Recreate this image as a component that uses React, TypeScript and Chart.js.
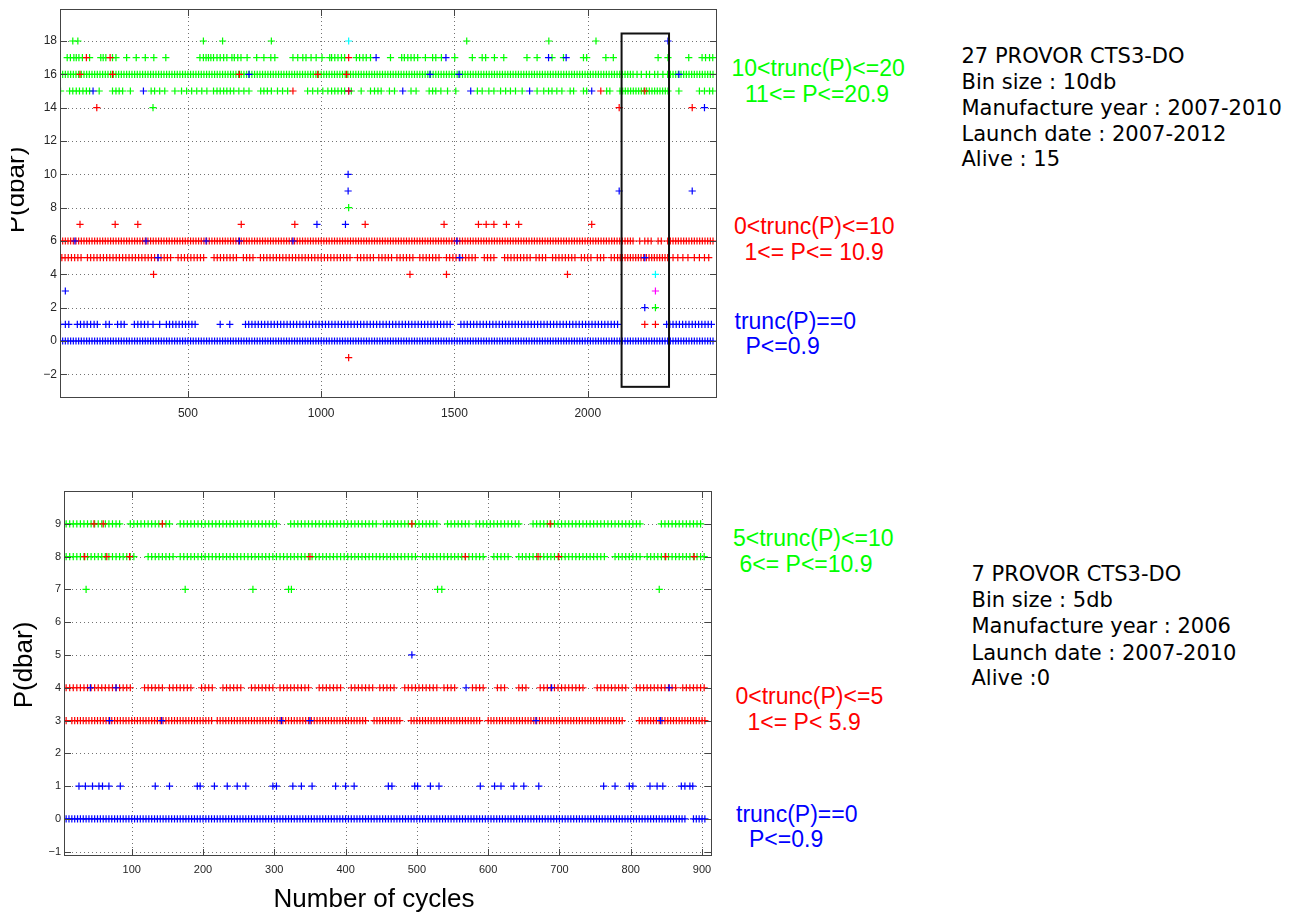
import React, { useEffect, useRef } from 'react';
import { Chart, registerables } from 'chart.js';
Chart.register(...registerables);

// ---------------- axis ranges & ticks ----------------
const TOP_X_RANGE = [20, 2485];
const TOP_Y_RANGE = [-3.42, 19.92];
const TOP_X_TICKS = [500, 1000, 1500, 2000];
const TOP_Y_TICKS = [-2, 0, 2, 4, 6, 8, 10, 12, 14, 16, 18];
const BOT_X_RANGE = [5, 914];
const BOT_Y_RANGE = [-1.13, 10];
const BOT_X_TICKS = [100, 200, 300, 400, 500, 600, 700, 800, 900];
const BOT_Y_TICKS = [-1, 0, 1, 2, 3, 4, 5, 6, 7, 8, 9];

// box drawn in the top panel (cycles, dbar)
const TOP_BOX_X = [2127, 2305];
const TOP_BOX_Y = [-2.75, 18.45];

// ---------------- top panel: rows of cycles ----------------
const TOP_BLUE_0 = [20,30,40,50,60,70,80,90,100,110,120,130,140,150,160,170,180,190,200,210,220,230,240,250,260,
270,280,290,300,310,320,330,340,350,360,370,380,390,400,410,420,430,440,450,460,470,480,490,500,510,
520,530,540,550,560,570,580,590,600,610,620,630,640,650,660,670,680,690,700,710,720,730,740,750,760,
770,780,790,800,810,820,830,840,850,860,870,880,890,900,910,920,930,940,950,960,970,980,990,1000,1010,
1020,1030,1040,1050,1060,1070,1080,1090,1100,1110,1120,1130,1140,1150,1160,1170,1180,1190,1200,1210,1220,1230,1240,1250,1260,
1270,1280,1290,1300,1310,1320,1330,1340,1350,1360,1370,1380,1390,1400,1410,1420,1430,1440,1450,1460,1470,1480,1490,1500,1510,
1520,1530,1540,1550,1560,1570,1580,1590,1600,1610,1620,1630,1640,1650,1660,1670,1680,1690,1700,1710,1720,1730,1740,1750,1760,
1770,1780,1790,1800,1810,1820,1830,1840,1850,1860,1870,1880,1890,1900,1910,1920,1930,1940,1950,1960,1970,1980,1990,2000,2010,
2020,2030,2040,2050,2060,2070,2080,2090,2100,2110,2120,2130,2140,2150,2160,2170,2180,2190,2200,2210,2220,2230,2240,2250,2260,
2270,2280,2290,2300,2310,2320,2330,2340,2350,2360,2370,2380,2390,2400,2410,2420,2430,2440,2450,2460,2470];

const TOP_BLUE_1 = [22,40,53,85,97,110,122,135,148,160,192,205,236,249,261,299,312,324,337,350,369,394,
419,431,443,455,467,479,491,503,515,527,621,657,
716,728,740,752,764,776,788,800,812,824,836,848,860,872,884,896,908,920,932,944,956,968,980,992,1004,1016,1028,1040,
1052,1064,1076,1088,1100,1112,1124,1136,1148,1160,1172,1184,1196,1208,1220,1232,1244,1256,1268,1280,1292,1304,1316,
1328,1340,1352,1364,1376,1388,1400,1412,1424,1436,1448,1460,1472,1484,
1524,1536,1548,1560,1572,1584,1596,1608,1620,1632,1644,1656,1668,1680,1692,1704,1716,1728,1740,1752,1764,1776,1788,
1800,1812,1824,1836,1848,1860,1872,1884,1896,1908,1920,1932,1944,1956,1968,1980,1992,2004,2016,2028,2040,2052,2064,
2076,2088,2100,2112,
2296,2308,2320,2332,2344,2356,2368,2380,2392,2404,2416,2428,2440,2452,2464];

const TOP_RED_5 = [22,27,39,51,63,75,87,99,123,135,147,159,171,183,195,207,219,231,243,255,267,279,291,303,315,327,339,351,
363,375,387,399,411,423,435,463,475,487,499,511,523,535,547,559,598,610,622,634,646,658,670,682,708,720,732,744,
772,784,796,808,820,832,844,856,868,880,892,904,916,928,940,952,964,976,988,1000,1012,1024,1036,1048,1060,1072,1084,
1096,1108,1136,1148,1160,1172,1184,1196,1216,1228,1240,1252,1264,1284,1296,1308,1320,1332,1344,1370,1382,1394,1406,
1418,1430,1442,1470,1482,1494,1506,1518,1530,1542,1554,1566,1578,1612,1624,1636,1648,1688,1700,1712,1724,1736,1748,
1760,1772,1784,1806,1818,1830,1842,1868,1880,1892,1904,1916,1928,1940,1952,1976,1988,2000,2012,2036,2048,2060,2088,
2100,2112,2122,2130,2140,2150,2160,2170,2180,2190,2200,2210,2220,2230,2240,2250,2260,2270,2280,2290,2300,
2320,2338,2357,2376,2400,2419,2438,2454];

const TOP_RED_6 = [20,30,40,50,60,70,80,90,100,110,120,130,140,150,160,170,180,190,200,210,220,230,240,250,260,
270,280,290,300,310,320,330,340,350,360,370,380,390,400,410,420,430,440,450,460,470,480,490,500,510,
520,530,540,550,560,570,580,590,600,610,620,630,640,650,660,670,680,690,700,710,720,730,740,750,760,
770,780,790,800,810,820,830,840,850,860,870,880,890,900,910,920,930,940,950,960,970,980,990,1000,1010,
1020,1030,1040,1050,1060,1070,1080,1090,1100,1110,1120,1130,1140,1150,1160,1170,1180,1190,1200,1210,1220,1230,1240,1250,1260,
1270,1280,1290,1300,1310,1320,1330,1340,1350,1360,1370,1380,1390,1400,1410,1420,1430,1440,1450,1460,1470,1480,1490,1500,1510,
1520,1530,1540,1550,1560,1570,1580,1590,1600,1610,1620,1630,1640,1650,1660,1670,1680,1690,1700,1710,1720,1730,1740,1750,1760,
1770,1780,1790,1800,1810,1820,1830,1840,1850,1860,1870,1880,1890,1900,1910,1920,1930,1940,1950,1960,1970,1980,1990,2000,2010,
2020,2030,2040,2050,2060,2070,2080,2090,2100,2110,2120,2130,2140,2150,2160,2170,2195,2214,2226,2238,2264,2276,
2300,2310,2320,2330,2340,2350,2360,2370,2380,2390,2400,2410,2420,2430,2440,2450,2460,2470];

const TOP_GREEN_15 = [22,56,68,81,93,106,119,131,167,217,230,242,255,284,362,375,394,413,451,476,495,514,533,552,571,596,
609,621,634,646,659,672,691,710,729,773,785,798,813,836,855,874,949,968,987,1006,1025,1039,1051,1063,1076,1088,1113,
1150,1185,1200,1213,1225,1256,1275,1337,1356,1405,1418,1430,1449,1474,1505,1586,1604,1629,1648,1673,1692,1710,1729,
1754,1810,1835,1853,1866,1884,1903,1934,1947,1984,1996,2071,2083,2121,2131,2141,2151,2161,2171,2181,2191,2201,2211,
2221,2231,2241,2251,2261,2271,2281,2291,2301,2342,2419,2438,2457,2469];

const TOP_GREEN_16 = [20,30,40,50,60,70,80,90,100,110,120,130,140,150,160,170,180,190,200,210,220,230,240,250,260,
270,280,290,300,310,320,330,340,350,360,370,380,390,400,410,420,430,440,450,460,470,480,490,500,510,
520,530,540,550,560,570,580,590,600,610,620,630,640,650,660,670,680,690,700,710,720,730,740,750,760,
770,780,790,800,810,820,830,840,850,860,870,880,890,900,910,920,930,940,950,960,970,980,990,1000,1010,
1020,1030,1040,1050,1060,1070,1080,1090,1100,1110,1120,1130,1140,1150,1160,1170,1180,1190,1200,1210,1220,1230,1240,1250,1260,
1270,1280,1290,1300,1310,1320,1330,1340,1350,1360,1370,1380,1390,1400,1410,1420,1430,1440,1450,1460,1470,1480,1490,1500,1510,
1520,1530,1540,1550,1560,1570,1580,1590,1600,1610,1620,1630,1640,1650,1660,1670,1680,1690,1700,1710,1720,1730,1740,1750,1760,
1770,1780,1790,1800,1810,1820,1830,1840,1850,1860,1870,1880,1890,1900,1910,1920,1930,1940,1950,1960,1970,1980,1990,2000,2010,
2020,2030,2040,2050,2060,2070,2080,2090,2100,2110,2120,2130,2140,2150,2160,2170,2185,2201,2220,2232,2251,2263,2282,
2300,2310,2320,2330,2340,2350,2360,2370,2380,2390,2400,2410,2420,2430,2440,2450,2460,2470];

const TOP_GREEN_17 = [47,59,72,81,91,104,131,173,182,192,217,230,270,306,340,372,417,545,558,568,577,586,596,609,621,634,
646,665,674,687,699,722,758,785,811,826,894,912,931,943,962,981,1003,1032,1039,1051,1063,1076,1088,1132,1144,1157,
1169,1185,1260,1302,1312,1325,1337,1349,1362,1391,1418,1430,1451,1501,1567,1604,1617,1650,1685,1772,1810,1866,1909,
1984,1996,2068,2096,2264,2301,2379,2429,2442,2457,2469];

const TOP_GREEN_18 = [68, 87, 558, 630, 813, 1546, 1854, 2031];

// isolated points [cycle, dbar]
const TOP_BLUE_POINTS = [[76,6],[343,6],[568,6],[693,6],[894,6],[1509,6],[388,5],[1520,5],[2214,5],[729,16],[1408,16],
[1517,16],[2342,16],[144,15],[333,15],[1103,15],[1306,15],[1561,15],[1782,15],[2015,15],[1206,17],[1468,17],[1853,17],
[1919,17],[2301,18],[2438,14],[1101,10],[1101,9],[2118,9],[2392,9],[984,7],[1091,7],[40,3],[2214,2]];
const TOP_RED_POINTS = [[95,16],[217,16],[693,16],[987,16],[1095,16],[894,15],[1103,15],[2049,15],[2214,15],[119,17],
[208,17],[1103,17],[158,14],[2118,14],[2392,14],[95,7],[227,7],[312,7],[700,7],[901,7],[1165,7],[1461,7],[1590,7],
[1619,7],[1648,7],[1695,7],[1741,7],[2015,7],[371,4],[1333,4],[1470,4],[1924,4],[2214,1],[2254,1],[1103,-1]];
const TOP_GREEN_POINTS = [[369,14],[1103,8],[2254,2]];
const TOP_CYAN_POINTS = [[1103,18],[2254,4]];
const TOP_MAGENTA_POINTS = [[2254,3]];

// ---------------- bottom panel: rows of cycles ----------------
const BOT_BLUE_0 = [8,12,16,20,24,28,32,36,40,44,48,52,56,60,64,68,72,76,80,84,88,92,96,100,104,108,112,116,120,124,128,
132,136,140,144,148,152,156,160,164,168,172,176,180,184,188,192,196,200,204,208,212,216,220,224,228,232,236,240,244,248,
252,256,260,264,268,272,276,280,284,288,292,296,300,304,308,312,316,320,324,328,332,336,340,344,348,352,356,360,364,368,
372,376,380,384,388,392,396,400,404,408,412,416,420,424,428,432,436,440,444,448,452,456,460,464,468,472,476,480,484,488,
492,496,500,504,508,512,516,520,524,528,532,536,540,544,548,552,556,560,564,568,572,576,580,584,588,592,596,600,604,608,
612,616,620,624,628,632,636,640,644,648,652,656,660,664,668,672,676,680,684,688,692,696,700,704,708,712,716,720,724,728,
732,736,740,744,748,752,756,760,764,768,772,776,780,784,788,792,796,800,804,808,812,816,820,824,828,832,836,840,844,848,
852,856,860,864,868,872,876,888,892,896,900,904];

const BOT_BLUE_1 = [26,35,45,54,59,68,84,133,153,192,196,216,234,248,260,298,303,326,338,353,386,400,412,460,465,497,501,
519,531,589,609,618,636,650,671,762,778,798,803,827,837,845,871,876,883,887];

const BOT_RED_3 = [8,16,20,24,28,32,36,40,44,48,52,56,60,64,68,72,76,80,84,88,92,96,100,104,108,112,116,120,124,128,
132,136,140,144,148,152,156,160,164,168,172,176,180,184,188,192,196,200,204,208,212,220,224,228,232,236,240,244,248,
252,256,260,264,268,272,276,280,284,288,292,296,300,304,308,312,316,320,324,328,332,336,340,344,348,352,356,360,364,368,
372,376,380,384,388,392,396,400,404,408,412,416,420,424,428,440,444,448,452,456,460,464,468,472,476,
492,496,500,504,508,512,516,520,524,528,532,536,540,544,548,552,556,560,564,568,572,576,580,584,588,600,604,608,
612,616,620,624,628,632,636,640,644,648,652,656,660,664,668,672,676,680,684,688,692,696,700,704,708,712,716,720,724,728,
732,736,740,744,748,752,756,760,764,768,772,776,780,784,788,812,816,820,824,828,832,836,840,844,848,
852,856,860,864,868,872,876,880,884,888,892,896,900,904];

const BOT_RED_4 = [8,13,18,23,28,33,38,43,48,53,58,63,68,73,78,83,88,93,98,118,123,128,133,138,143,153,158,163,168,173,
178,183,198,203,208,213,228,233,238,243,248,253,268,273,278,283,288,293,298,308,313,318,323,328,333,338,343,348,363,
368,373,378,383,388,393,408,413,418,423,428,433,438,448,453,458,463,468,483,488,493,498,503,508,513,518,523,528,538,
543,548,553,578,583,588,593,613,618,623,643,648,653,673,678,683,688,693,698,703,708,713,718,723,728,733,753,758,763,
768,773,778,783,788,793,808,813,818,823,828,833,838,843,848,853,858,863,873,878,883,888,893,898,903];

const BOT_GREEN_8 = [8,13,18,23,28,33,38,43,48,53,58,63,68,73,78,83,88,93,98,103,123,128,133,138,143,148,153,158,168,173,
178,183,188,193,198,203,208,213,218,223,228,233,238,243,248,253,258,263,268,273,278,283,288,293,298,303,308,313,318,
323,328,333,338,343,348,353,358,363,368,373,378,383,388,393,398,403,408,413,418,423,428,433,438,443,448,453,458,463,
468,473,478,483,488,493,498,508,513,518,523,528,533,538,543,548,553,558,563,568,573,578,583,588,593,608,613,618,623,
628,643,648,653,658,663,668,673,678,683,688,693,698,703,708,713,718,723,728,733,738,743,748,753,758,763,778,783,788,
793,798,803,808,813,823,828,833,838,843,848,853,858,863,868,873,878,883,888,893,898,903];

const BOT_GREEN_9 = [8,13,18,23,28,33,38,43,48,53,58,63,68,73,78,83,98,103,108,113,118,123,128,133,138,143,148,153,168,
173,178,183,188,193,198,203,208,213,218,223,228,233,238,243,248,253,258,263,268,273,278,283,288,293,298,303,323,328,
333,338,343,348,353,358,363,368,373,378,383,388,393,398,403,408,413,418,423,428,433,438,443,453,458,463,468,473,478,
483,488,493,498,503,508,513,518,523,528,543,548,553,558,563,568,573,583,588,593,598,603,608,613,618,623,628,633,638,
643,663,668,673,678,683,688,693,698,703,708,713,718,723,728,733,738,743,748,753,758,763,768,773,778,783,788,793,798,
803,808,813,843,848,853,858,863,868,873,878,883,888,893,898];

const BOT_GREEN_7 = [36, 175, 270, 320, 324, 529, 535, 840];

const BOT_RED_POINTS = [[47,9],[60,9],[143,9],[493,9],[687,9],[34,8],[65,8],[97,8],[350,8],[568,8],[670,8],[699,8],
[849,8],[889,8]];
const BOT_BLUE_POINTS = [[493,5],[42,4],[78,4],[569,4],[689,4],[854,4],[69,3],[142,3],[310,3],[350,3],[667,3],[842,3]];

// ---------------- text ----------------
const TOP_NOTES = ['27 PROVOR CTS3-DO', 'Bin size : 10db', 'Manufacture year : 2007-2010', 'Launch date : 2007-2012', 'Alive : 15'];
const BOT_NOTES = ['7 PROVOR CTS3-DO', 'Bin size : 5db', 'Manufacture year : 2006', 'Launch date : 2007-2010', 'Alive :0'];
const TOP_CLASSES = [['10<trunc(P)<=20', '11<= P<=20.9'], ['0<trunc(P)<=10', '1<= P<= 10.9'], ['trunc(P)==0', 'P<=0.9']];
const BOT_CLASSES = [['5<trunc(P)<=10', '6<= P<=10.9'], ['0<trunc(P)<=5', '1<= P< 5.9'], ['trunc(P)==0', 'P<=0.9']];
const Y_TITLE = 'P(dbar)';
const X_TITLE = 'Number of cycles';

// ---------------- styling ----------------
const BLUE = '#0000ff';
const RED = '#ff0000';
const GREEN = '#00ff00';
const CYAN = '#00ffff';
const MAGENTA = '#ff00ff';
const SANS = '"Liberation Sans", Arial, sans-serif';
const DEJAVU = '"DejaVu Sans", sans-serif';

const row = (xs: number[], y: number) => xs.map((x) => ({ x, y }));
const pts = (p: number[][]) => p.map(([x, y]) => ({ x, y }));

function ds(data: any[], color: string, order: number) {
  return {
    data,
    borderColor: color,
    backgroundColor: color,
    pointStyle: 'cross',
    pointRadius: 3.6,
    pointBorderWidth: 1.2,
    showLine: false,
    order,
  };
}

const fmt = (v: any) => (Number(v) < 0 ? '\u2212' + Math.abs(Number(v)) : String(v));

function makeDecor(cfg: any) {
  return {
    id: 'decor',
    beforeDatasetsDraw(chart: any) {
      const { ctx, chartArea: a, scales } = chart;
      const xs = scales.x, ys = scales.y;
      ctx.save();
      ctx.strokeStyle = 'rgba(0,0,0,0.55)';
      ctx.lineWidth = 1;
      ctx.setLineDash([1, 3]);
      ctx.beginPath();
      xs.ticks.forEach((t: any) => {
        const p = Math.round(xs.getPixelForValue(t.value)) + 0.5;
        ctx.moveTo(p, a.top);
        ctx.lineTo(p, a.bottom);
      });
      ys.ticks.forEach((t: any) => {
        const p = Math.round(ys.getPixelForValue(t.value)) + 0.5;
        ctx.moveTo(a.left, p);
        ctx.lineTo(a.right, p);
      });
      ctx.stroke();
      ctx.restore();
    },
    afterDatasetsDraw(chart: any) {
      const { ctx, chartArea: a, scales } = chart;
      const xs = scales.x, ys = scales.y;
      ctx.save();
      ctx.setLineDash([]);
      ctx.strokeStyle = '#444';
      ctx.lineWidth = 1;
      ctx.strokeRect(a.left + 0.5, a.top + 0.5, a.right - a.left - 1, a.bottom - a.top - 1);
      const tl = 7;
      ctx.beginPath();
      xs.ticks.forEach((t: any) => {
        const p = Math.round(xs.getPixelForValue(t.value)) + 0.5;
        ctx.moveTo(p, a.bottom);
        ctx.lineTo(p, a.bottom - tl);
        ctx.moveTo(p, a.top);
        ctx.lineTo(p, a.top + tl);
      });
      ys.ticks.forEach((t: any) => {
        const p = Math.round(ys.getPixelForValue(t.value)) + 0.5;
        ctx.moveTo(a.left, p);
        ctx.lineTo(a.left + tl, p);
        ctx.moveTo(a.right, p);
        ctx.lineTo(a.right - tl, p);
      });
      ctx.stroke();
      if (cfg.box) {
        const x1 = xs.getPixelForValue(cfg.box.x[0]);
        const x2 = xs.getPixelForValue(cfg.box.x[1]);
        const y1 = ys.getPixelForValue(cfg.box.y[1]);
        const y2 = ys.getPixelForValue(cfg.box.y[0]);
        ctx.strokeStyle = '#111';
        ctx.lineWidth = 2;
        ctx.strokeRect(x1, y1, x2 - x1, y2 - y1);
      }
      ctx.fillStyle = '#000';
      ctx.font = '26px ' + SANS;
      if (cfg.yTitle) {
        ctx.save();
        if (cfg.yTitle.clipX != null) {
          ctx.beginPath();
          ctx.rect(cfg.yTitle.clipX, 0, 2000, 2000);
          ctx.clip();
        }
        ctx.translate(cfg.yTitle.x, cfg.yTitle.y);
        ctx.rotate(-Math.PI / 2);
        ctx.textAlign = 'center';
        ctx.textBaseline = 'alphabetic';
        ctx.fillText(Y_TITLE, 0, 0);
        ctx.restore();
      }
      if (cfg.xTitle) {
        ctx.textAlign = 'center';
        ctx.textBaseline = 'alphabetic';
        ctx.fillText(X_TITLE, cfg.xTitle.x, cfg.xTitle.y);
      }
      ctx.restore();
    },
  };
}

function makeOptions(cfg: any) {
  return {
    animation: false,
    responsive: false,
    devicePixelRatio: 1,
    events: [],
    layout: { padding: cfg.padding },
    plugins: { legend: { display: false }, tooltip: { enabled: false } },
    scales: {
      x: {
        type: 'linear',
        min: cfg.xRange[0],
        max: cfg.xRange[1],
        grid: { display: false, drawTicks: false },
        border: { display: false },
        afterBuildTicks: (s: any) => { s.ticks = cfg.xTicks.map((value: number) => ({ value })); },
        afterFit: (s: any) => { s.height = cfg.xAxisH; s.paddingLeft = 0; s.paddingRight = 0; },
        ticks: { font: { family: SANS, size: cfg.fontSize }, color: '#262626', padding: cfg.xPad, maxRotation: 0, autoSkip: false, callback: fmt },
      },
      y: {
        type: 'linear',
        min: cfg.yRange[0],
        max: cfg.yRange[1],
        grid: { display: false, drawTicks: false },
        border: { display: false },
        afterBuildTicks: (s: any) => { s.ticks = cfg.yTicks.map((value: number) => ({ value })); },
        afterFit: (s: any) => { s.width = cfg.yAxisW; s.paddingTop = 0; s.paddingBottom = 0; },
        ticks: { font: { family: SANS, size: cfg.fontSize }, color: '#262626', padding: 3, autoSkip: false, callback: fmt },
      },
    },
  };
}

const TEXT_LINES = [
  // top panel class labels
  { t: TOP_CLASSES[0][0], x: 731.5, y: 55, c: GREEN, f: SANS, s: 23 },
  { t: TOP_CLASSES[0][1], x: 745, y: 80.7, c: GREEN, f: SANS, s: 23 },
  { t: TOP_CLASSES[1][0], x: 734, y: 213, c: RED, f: SANS, s: 23 },
  { t: TOP_CLASSES[1][1], x: 744.5, y: 239, c: RED, f: SANS, s: 23 },
  { t: TOP_CLASSES[2][0], x: 734.5, y: 307.5, c: BLUE, f: SANS, s: 23 },
  { t: TOP_CLASSES[2][1], x: 745.5, y: 332.5, c: BLUE, f: SANS, s: 23 },
  // bottom panel class labels
  { t: BOT_CLASSES[0][0], x: 733, y: 525, c: GREEN, f: SANS, s: 23 },
  { t: BOT_CLASSES[0][1], x: 739.5, y: 550.7, c: GREEN, f: SANS, s: 23 },
  { t: BOT_CLASSES[1][0], x: 735.5, y: 683, c: RED, f: SANS, s: 23 },
  { t: BOT_CLASSES[1][1], x: 747.5, y: 709, c: RED, f: SANS, s: 23 },
  { t: BOT_CLASSES[2][0], x: 736, y: 800.7, c: BLUE, f: SANS, s: 23 },
  { t: BOT_CLASSES[2][1], x: 749, y: 825.7, c: BLUE, f: SANS, s: 23 },
  // notes
  ...TOP_NOTES.map((t, i) => ({ t, x: 961.5, y: [43, 69, 94.7, 120.7, 146.4][i], c: '#000', f: DEJAVU, s: 21 })),
  ...BOT_NOTES.map((t, i) => ({ t, x: 971.5, y: [561.4, 587, 613, 639.7, 665.4][i], c: '#000', f: DEJAVU, s: 21 })),
];

export default function App() {
  const topRef = useRef<HTMLCanvasElement>(null);
  const botRef = useRef<HTMLCanvasElement>(null);

  useEffect(() => {
    const topCfg = {
      padding: { left: 0, top: 9, right: 13, bottom: 0 },
      xRange: TOP_X_RANGE, yRange: TOP_Y_RANGE, xTicks: TOP_X_TICKS, yTicks: TOP_Y_TICKS,
      xAxisH: 32, yAxisW: 60, xPad: 8, fontSize: 12,
    };
    const botCfg = {
      padding: { left: 0, top: 21, right: 18, bottom: 0 },
      xRange: BOT_X_RANGE, yRange: BOT_Y_RANGE, xTicks: BOT_X_TICKS, yTicks: BOT_Y_TICKS,
      xAxisH: 59, yAxisW: 64, xPad: 7, fontSize: 11,
    };
    const top = new Chart(topRef.current as HTMLCanvasElement, {
      type: 'scatter',
      data: {
        datasets: [
          ds(row(TOP_BLUE_0, 0), BLUE, 2),
          ds(row(TOP_BLUE_1, 1), BLUE, 2),
          ds(row(TOP_RED_5, 5), RED, 2),
          ds(row(TOP_RED_6, 6), RED, 2),
          ds(row(TOP_GREEN_15, 15), GREEN, 2),
          ds(row(TOP_GREEN_16, 16), GREEN, 2),
          ds(row(TOP_GREEN_17, 17), GREEN, 2),
          ds(row(TOP_GREEN_18, 18), GREEN, 2),
          ds(pts(TOP_GREEN_POINTS), GREEN, 1),
          ds(pts(TOP_RED_POINTS), RED, 1),
          ds(pts(TOP_BLUE_POINTS), BLUE, 1),
          ds(pts(TOP_CYAN_POINTS), CYAN, 1),
          ds(pts(TOP_MAGENTA_POINTS), MAGENTA, 1),
        ] as any,
      },
      options: makeOptions(topCfg) as any,
      plugins: [makeDecor({ box: { x: TOP_BOX_X, y: TOP_BOX_Y }, yTitle: { x: 24, y: 190, clipX: 11 } })],
    });
    const bot = new Chart(botRef.current as HTMLCanvasElement, {
      type: 'scatter',
      data: {
        datasets: [
          ds(row(BOT_BLUE_0, 0), BLUE, 2),
          ds(row(BOT_BLUE_1, 1), BLUE, 2),
          ds(row(BOT_RED_3, 3), RED, 2),
          ds(row(BOT_RED_4, 4), RED, 2),
          ds(row(BOT_GREEN_7, 7), GREEN, 2),
          ds(row(BOT_GREEN_8, 8), GREEN, 2),
          ds(row(BOT_GREEN_9, 9), GREEN, 2),
          ds(pts(BOT_RED_POINTS), RED, 1),
          ds(pts(BOT_BLUE_POINTS), BLUE, 1),
        ] as any,
      },
      options: makeOptions(botCfg) as any,
      plugins: [makeDecor({ yTitle: { x: 32, y: 195 }, xTitle: { x: 374, y: 436.7 } })],
    });
    return () => {
      top.destroy();
      bot.destroy();
    };
  }, []);

  return (
    <div style={{ position: 'absolute', left: 0, top: 0, width: 1296, height: 915, background: '#fff', overflow: 'hidden' }}>
      <canvas ref={topRef} width={730} height={430} style={{ position: 'absolute', left: 0, top: 0, width: 730, height: 430 }} />
      <canvas ref={botRef} width={730} height={445} style={{ position: 'absolute', left: 0, top: 470, width: 730, height: 445 }} />
      {TEXT_LINES.map((l, i) => (
        <div
          key={i}
          style={{
            position: 'absolute', left: l.x, top: l.y, color: l.c, fontFamily: l.f, fontSize: l.s,
            lineHeight: '26px', whiteSpace: 'pre', margin: 0,
          }}
        >
          {l.t}
        </div>
      ))}
    </div>
  );
}
